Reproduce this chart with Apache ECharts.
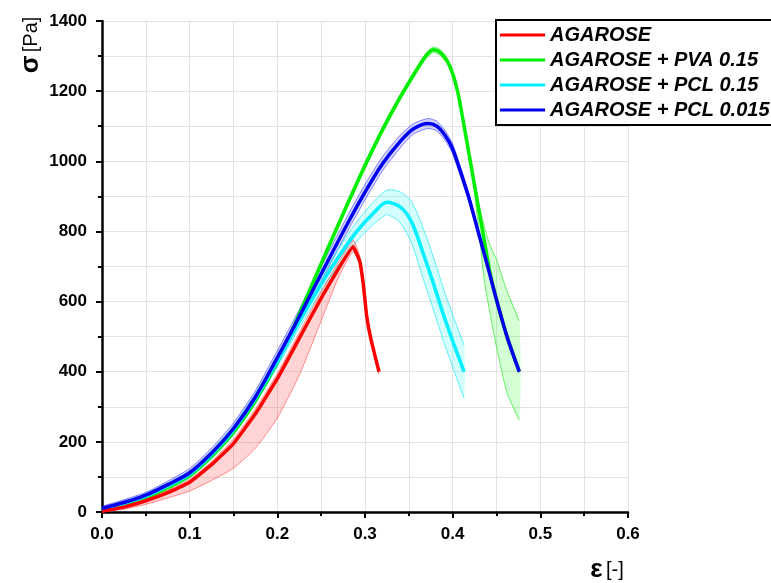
<!DOCTYPE html>
<html>
<head>
<meta charset="utf-8">
<script src="https://cdn.jsdelivr.net/npm/echarts@6/dist/echarts.min.js"></script>
<style>
html,body{margin:0;padding:0;background:#fff;}
#chart{width:771px;height:583px;}
</style>
</head>
<body>
<div id="chart"></div>
<script>
// ---------- DATA ----------
const seriesNames = ['AGAROSE', 'AGAROSE + PVA 0.15', 'AGAROSE + PCL 0.15', 'AGAROSE + PCL 0.015'];

// AGAROSE
const agStrain = [0, 0.025, 0.05, 0.075, 0.1, 0.125, 0.15, 0.175, 0.2, 0.225, 0.25, 0.27, 0.2865, 0.294, 0.298, 0.302, 0.307, 0.316];
const agStress = [2, 14, 32, 55, 85, 135, 195, 280, 380, 495, 610, 695, 756, 715, 650, 557, 490, 400];
const agLow    = [0, 8, 22, 40, 60, 90, 125, 182, 268, 390, 545, 670, 742, 705, 641, 548, 482, 393];
const agHigh   = [6, 20, 38, 62, 93, 144, 208, 294, 395, 512, 628, 714, 775, 728, 660, 567, 499, 408];

// AGAROSE + PVA 0.15
const pvaStrain = [0, 0.025, 0.05, 0.075, 0.1, 0.125, 0.15, 0.175, 0.2, 0.22, 0.24, 0.26, 0.28, 0.30, 0.32, 0.34, 0.36, 0.37, 0.378, 0.386, 0.394, 0.40, 0.406, 0.412, 0.418, 0.424, 0.43, 0.436, 0.442, 0.45, 0.462, 0.476];
const pvaStress = [6, 22, 42, 70, 105, 160, 228, 318, 428, 535, 650, 765, 878, 988, 1090, 1182, 1265, 1302, 1318, 1310, 1285, 1250, 1195, 1115, 1030, 945, 860, 775, 690, 605, 500, 400];
const pvaLow    = [2, 17, 36, 63, 97, 151, 219, 309, 419, 526, 641, 756, 869, 979, 1081, 1174, 1257, 1294, 1310, 1302, 1277, 1242, 1187, 1105, 1018, 930, 800, 660, 575, 470, 340, 262];
const pvaHigh   = [10, 27, 48, 77, 113, 169, 237, 327, 437, 544, 659, 774, 887, 997, 1099, 1190, 1273, 1310, 1326, 1318, 1293, 1258, 1203, 1125, 1042, 958, 875, 815, 765, 720, 630, 545];

// AGAROSE + PCL 0.15
const pcl15Strain = [0, 0.025, 0.05, 0.075, 0.1, 0.125, 0.15, 0.175, 0.2, 0.225, 0.25, 0.27, 0.29, 0.31, 0.325, 0.34, 0.353, 0.366, 0.378, 0.389, 0.401, 0.413];
const pcl15Stress = [8, 25, 45, 74, 108, 164, 234, 324, 430, 543, 650, 728, 798, 853, 883, 870, 828, 740, 652, 566, 481, 400];
const pcl15Low    = [3, 19, 38, 66, 99, 154, 222, 310, 414, 525, 630, 704, 770, 821, 848, 825, 768, 668, 577, 491, 406, 325];
const pcl15High   = [13, 31, 52, 82, 117, 174, 246, 338, 446, 561, 670, 752, 826, 885, 918, 913, 886, 812, 727, 641, 556, 475];

// AGAROSE + PCL 0.015
const pcl015Strain = [0, 0.025, 0.05, 0.075, 0.1, 0.125, 0.15, 0.175, 0.2, 0.22, 0.24, 0.26, 0.28, 0.30, 0.32, 0.34, 0.355, 0.372, 0.382, 0.391, 0.399, 0.405, 0.418, 0.429, 0.44, 0.45, 0.462, 0.476];
const pcl015Stress = [10, 27, 48, 78, 112, 168, 238, 328, 440, 533, 630, 727, 822, 912, 993, 1056, 1092, 1108, 1100, 1075, 1041, 1000, 900, 800, 700, 605, 500, 400];
const pcl015Low    = [4, 19, 40, 68, 100, 154, 222, 310, 420, 513, 608, 705, 800, 890, 973, 1038, 1077, 1094, 1086, 1061, 1027, 986, 888, 790, 692, 599, 495, 396];
const pcl015High   = [16, 35, 56, 88, 124, 182, 254, 346, 460, 553, 652, 749, 844, 934, 1013, 1074, 1107, 1122, 1114, 1089, 1055, 1014, 912, 810, 708, 611, 505, 404];

const xTicks = { min: 0, max: 0.6, interval: 0.1 };
const yTicks = { min: 0, max: 1400, interval: 200 };

// ---------- BUILD ----------
const zip = (xs, ys) => xs.map((x, i) => [x, ys[i]]);

function band(name, xs, lo, hi, fill, edge) {
  return {
    type: 'custom',
    name: name + ' band',
    silent: true,
    z: 1,
    data: xs.map((x, i) => [x, lo[i], hi[i]]),
    encode: { x: 0, y: [1, 2] },
    renderItem: function (params, api) {
      if (params.dataIndex !== 0) return null;
      const up = xs.map((x, i) => api.coord([x, hi[i]]));
      const dn = xs.map((x, i) => api.coord([x, lo[i]]));
      return {
        type: 'group',
        children: [
          { type: 'polygon', shape: { points: up.concat(dn.slice().reverse()), smooth: 0.2 }, style: { fill: fill, stroke: null } },
          { type: 'polyline', shape: { points: up, smooth: 0.2 }, style: { stroke: edge, lineWidth: 1, fill: null } },
          { type: 'polyline', shape: { points: dn, smooth: 0.2 }, style: { stroke: edge, lineWidth: 1, fill: null } }
        ]
      };
    }
  };
}

function line(name, xs, ys, color, z, smooth) {
  return {
    type: 'line', name: name, data: zip(xs, ys), symbol: 'none', smooth: smooth,
    z: z, lineStyle: { color: color, width: 3.5 }, itemStyle: { color: color }
  };
}

const labelFont = { fontFamily: 'Arial, "Liberation Sans", sans-serif', fontWeight: 'bold', fontSize: 17, color: '#000' };

const chart = echarts.init(document.getElementById('chart'), null, { renderer: 'canvas' });
chart.setOption({
  backgroundColor: '#fff',
  animation: false,
  grid: { left: 102, right: 143, top: 21, bottom: 71 },
  xAxis: {
    type: 'value', min: xTicks.min, max: xTicks.max, interval: xTicks.interval,
    axisLine: { show: true, onZero: false, lineStyle: { color: '#000', width: 2.5 } },
    axisTick: { show: true, inside: false, length: 6, lineStyle: { color: '#000', width: 2 } },
    minorTick: { show: true, splitNumber: 2, length: 4, lineStyle: { color: '#000', width: 2 } },
    splitLine: { show: true, lineStyle: { color: '#e2e2e2', width: 1 } },
    minorSplitLine: { show: true, lineStyle: { color: '#e2e2e2', width: 1 } },
    axisLabel: Object.assign({ margin: 14, formatter: v => v.toFixed(1) }, labelFont)
  },
  yAxis: {
    type: 'value', min: yTicks.min, max: yTicks.max, interval: yTicks.interval,
    axisLine: { show: true, onZero: false, lineStyle: { color: '#000', width: 2.5 } },
    axisTick: { show: true, inside: false, length: 6, lineStyle: { color: '#000', width: 2 } },
    minorTick: { show: true, splitNumber: 2, length: 4, lineStyle: { color: '#000', width: 2 } },
    splitLine: { show: true, lineStyle: { color: '#e2e2e2', width: 1 } },
    minorSplitLine: { show: true, lineStyle: { color: '#e2e2e2', width: 1 } },
    axisLabel: Object.assign({ margin: 15, formatter: v => String(v) }, labelFont)
  },
  legend: {
    data: seriesNames,
    orient: 'vertical',
    left: 496, top: 20,
    padding: [5, 40, 5, 4],
    icon: 'rect',
    itemWidth: 45, itemHeight: 3, itemGap: 5,
    backgroundColor: '#fff',
    borderColor: '#000', borderWidth: 2,
    textStyle: { fontFamily: 'Arial, "Liberation Sans", sans-serif', fontWeight: 'bold', fontStyle: 'italic', fontSize: 20, color: '#000' }
  },
  graphic: [
    {
      type: 'text', x: 31, y: 45, rotation: Math.PI / 2,
      style: {
        text: '{s|σ} {p|[Pa]}', align: 'center', verticalAlign: 'middle',
        rich: {
          s: { fontFamily: 'Arial, "Liberation Sans", sans-serif', fontWeight: 'bold', fontSize: 26, fill: '#000' },
          p: { fontFamily: 'Arial, "Liberation Sans", sans-serif', fontSize: 20, fill: '#000' }
        }
      }
    },
    {
      type: 'text', x: 607, y: 570,
      style: {
        text: '{s|ε} {p|[-]}', align: 'center', verticalAlign: 'middle',
        rich: {
          s: { fontFamily: 'Arial, "Liberation Sans", sans-serif', fontWeight: 'bold', fontSize: 26, fill: '#000' },
          p: { fontFamily: 'Arial, "Liberation Sans", sans-serif', fontSize: 20, fill: '#000' }
        }
      }
    }
  ],
  series: [
    band(seriesNames[1], pvaStrain, pvaLow, pvaHigh, 'rgba(0,255,0,0.17)', 'rgba(0,230,0,0.55)'),
    band(seriesNames[3], pcl015Strain, pcl015Low, pcl015High, 'rgba(60,60,255,0.22)', 'rgba(40,40,255,0.55)'),
    band(seriesNames[2], pcl15Strain, pcl15Low, pcl15High, 'rgba(0,255,255,0.17)', 'rgba(0,230,240,0.6)'),
    band(seriesNames[0], agStrain, agLow, agHigh, 'rgba(255,0,0,0.17)', 'rgba(255,60,60,0.55)'),
    line(seriesNames[1], pvaStrain, pvaStress, '#00ee00', 3, 0.3),
    line(seriesNames[2], pcl15Strain, pcl15Stress, '#00f0ff', 4, 0.3),
    line(seriesNames[0], agStrain, agStress, '#ff0000', 5, 0.1),
    line(seriesNames[3], pcl015Strain, pcl015Stress, '#0000ee', 6, 0.3)
  ]
});
</script>
</body>
</html>
